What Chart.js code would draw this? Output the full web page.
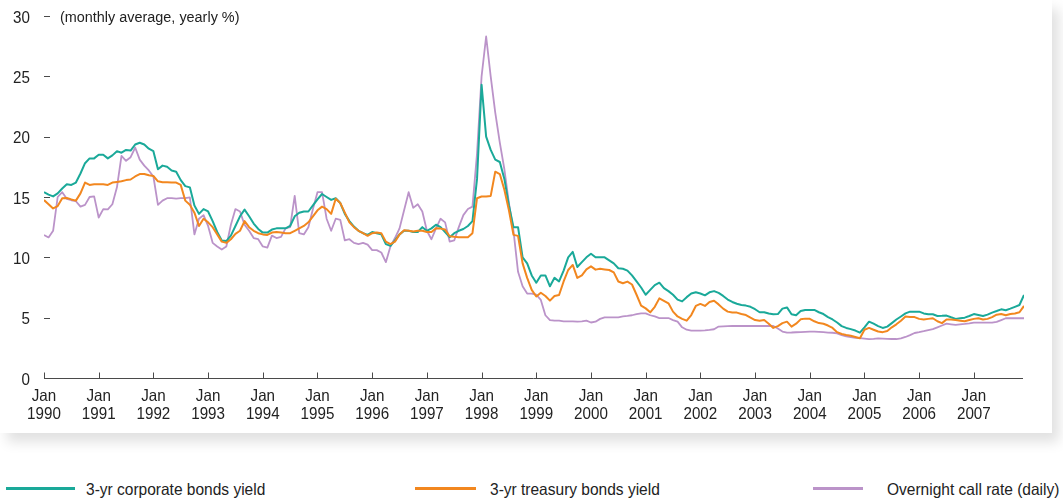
<!DOCTYPE html>
<html>
<head>
<meta charset="utf-8">
<script src="https://cdn.jsdelivr.net/npm/chart.js@4/dist/chart.umd.min.js"></script>
<style>
  body { margin: 0; background: #fff; font-family: 'Liberation Sans', Arial, sans-serif; color: #222; }
  #card { position: absolute; left: 0; top: 0; width: 1052px; height: 433px; background: #fff; box-shadow: 7px 9px 12px rgba(0,0,0,0.12); }
  #card canvas { position: absolute; left: 0; top: 0; }
  .txt { position: absolute; white-space: nowrap; transform-origin: 0 0; }
  #note { left: 60px; top: 8px; font-size: 15.5px; transform: scaleX(0.93); }
  .leg { top: 479px; font-size: 16.5px; line-height: 20px; transform: scaleX(0.94); }
  .sw { position: absolute; top: 487px; height: 3px; }
</style>
</head>
<body>
<div id="card">
  <canvas id="chart" width="1052" height="433"></canvas>
  <div id="note" class="txt">(monthly average, yearly %)</div>
</div>
<i class="sw" style="left:6px;width:69px;background:#1aa999"></i>
<div class="txt leg" style="left:86px">3-yr corporate bonds yield</div>
<i class="sw" style="left:415px;width:61px;background:#f2871f"></i>
<div class="txt leg" style="left:490px">3-yr treasury bonds yield</div>
<i class="sw" style="left:813px;width:50px;background:#bb93c9"></i>
<div class="txt leg" style="left:887px">Overnight call rate (daily)</div>

<script>
// ── Data (monthly, Jan 1990 – Dec 2007) ───────────────────────────────
const startYear = 1990;
const yearTicks = [0, 12, 24, 36, 48, 60, 72, 84, 96, 108, 120, 132, 144, 156, 168, 180, 192, 204];
const yTicks = [0, 5, 10, 15, 20, 25, 30];

const corporate = [
  15.4, 15.2, 15.05, 15.3, 15.7, 16.05, 16.0, 16.2, 16.95, 17.8, 18.2, 18.2,
  18.5, 18.5, 18.2, 18.45, 18.8, 18.67, 18.9, 18.85, 19.35, 19.5, 19.35, 19.0,
  18.8, 17.3, 17.6, 17.5, 17.2, 17.1, 16.4, 15.9, 15.8, 14.3, 13.6, 14.0,
  13.8, 13.0, 12.1, 11.4, 11.35, 11.8, 12.6, 13.4, 13.95, 13.4, 12.8, 12.35,
  12.05, 12.05, 12.3, 12.4, 12.4, 12.4, 12.6, 13.4, 13.7, 13.8, 13.8, 14.3,
  14.8, 15.25, 15.0, 14.76, 14.9, 14.5, 13.6, 13.0, 12.55, 12.2, 12.0, 11.86,
  12.1, 12.0, 11.9, 11.1, 10.95, 11.4, 11.9, 12.2, 12.2, 12.1, 12.1, 12.5,
  12.2, 12.4, 12.7, 12.5, 12.1, 11.67, 12.0, 12.2, 12.35, 12.6, 13.0, 16.5,
  24.3, 20.0, 18.9, 18.1, 17.9, 16.5, 14.3, 12.5, 12.5, 10.0, 9.5, 8.5,
  7.9, 8.5, 8.5, 7.6, 8.3, 8.0, 8.9, 10.0, 10.45, 9.2, 9.6, 10.0,
  10.3, 10.0, 10.0, 10.0, 9.75, 9.5, 9.1, 9.05, 8.9, 8.5, 8.0, 7.5,
  6.9, 7.3, 7.7, 7.9, 7.45, 7.2, 6.9, 6.5, 6.35, 6.7, 7.0, 7.1,
  7.0, 6.85, 7.1, 7.2, 7.05, 6.8, 6.5, 6.3, 6.15, 6.05, 6.0, 5.9,
  5.7, 5.45, 5.45, 5.35, 5.28, 5.3, 5.75, 5.85, 5.28, 5.2, 5.55, 5.64,
  5.64, 5.64, 5.45, 5.3, 5.05, 4.85, 4.6, 4.3, 4.15, 4.05, 3.93, 3.76,
  4.2, 4.67, 4.5, 4.3, 4.15, 4.26, 4.55, 4.85, 5.1, 5.35, 5.5, 5.5,
  5.5, 5.35, 5.28, 5.28, 5.14, 5.15, 5.17, 5.03, 4.9, 4.95, 5.0, 5.14,
  5.3, 5.22, 5.14, 5.25, 5.42, 5.55, 5.69, 5.62, 5.75, 5.9, 6.05, 6.88
];

const treasury = [
  14.75, 14.4, 14.05, 14.25, 14.9, 14.92, 14.8, 14.7, 15.3, 16.2, 16.0, 16.05,
  16.06, 16.06, 16.0, 16.2, 16.25, 16.3, 16.4, 16.45, 16.7, 16.9, 16.9, 16.8,
  16.74, 16.3, 16.22, 16.22, 16.2, 16.2, 16.0, 14.7, 14.35, 13.7, 12.6, 13.2,
  12.9, 12.5, 11.9, 11.3, 11.2, 11.5, 11.95, 12.2, 13.0, 12.5, 12.2, 12.0,
  11.9, 11.86, 12.05, 12.1, 12.05, 12.0, 12.0, 12.2, 12.4, 12.6, 12.9, 13.4,
  13.9, 14.2, 14.0, 13.6, 14.85, 14.5, 13.7, 12.9, 12.5, 12.2, 12.0, 11.78,
  12.0, 12.05, 12.0, 11.3, 11.1, 11.3, 11.9, 12.25, 12.2, 12.14, 12.2, 12.2,
  12.1, 12.1, 12.4, 12.38, 12.3, 11.75, 11.7, 11.67, 11.67, 11.67, 12.0, 14.9,
  15.04, 15.05, 15.09, 17.1, 16.9, 15.6, 13.9, 11.86, 11.78, 9.5, 8.3, 7.3,
  6.75, 7.07, 6.8, 6.41, 6.8, 6.88, 8.0, 8.95, 9.37, 8.3, 8.5, 9.0,
  9.25, 8.98, 9.05, 9.0, 8.95, 8.75, 8.0, 7.85, 7.99, 7.75, 6.9, 6.0,
  5.77, 5.44, 5.9, 6.6, 6.4, 6.19, 5.5, 5.1, 4.9, 4.75, 5.22, 5.97,
  6.14, 5.97, 6.3, 6.4, 6.1, 5.75, 5.5, 5.42, 5.42, 5.3, 5.22, 5.0,
  4.8, 4.75, 4.8, 4.5, 4.15, 4.3, 4.55, 4.67, 4.26, 4.5, 4.86, 4.92,
  4.9, 4.7, 4.55, 4.5, 4.35, 4.15, 3.8, 3.65, 3.57, 3.5, 3.4, 3.3,
  4.0, 4.15, 4.0, 3.85, 3.8, 3.9, 4.2, 4.45, 4.75, 5.1, 5.05, 5.05,
  4.9, 4.85, 4.9, 4.95, 4.7, 4.55, 4.85, 4.85, 4.8, 4.75, 4.7, 4.8,
  4.9, 4.95, 4.85, 4.9, 5.05, 5.25, 5.3, 5.2, 5.3, 5.35, 5.45, 5.97
];

const callRate = [
  11.85, 11.65, 12.2, 15.0, 15.4, 14.85, 14.73, 14.65, 14.2, 14.35, 15.0, 15.05,
  13.3, 14.0, 13.97, 14.4, 15.8, 18.4, 18.0, 18.3, 19.1, 18.1, 17.6, 17.2,
  16.7, 14.35, 14.7, 14.9, 14.9, 14.86, 14.9, 14.9, 14.97, 11.9, 13.2, 13.5,
  12.6, 11.2, 10.9, 10.65, 10.9, 12.7, 14.0, 13.8, 12.7, 12.2, 11.6, 11.5,
  10.9, 10.8, 11.8, 11.6, 11.7, 12.4, 12.5, 15.1, 12.0, 11.9, 12.5, 14.0,
  15.4, 15.4, 13.2, 12.2, 13.2, 13.1, 11.4, 11.5, 11.2, 11.1, 11.2, 11.05,
  10.6, 10.6, 10.4, 9.6, 10.9, 11.6, 12.4, 13.9, 15.4, 14.1, 14.4, 13.8,
  12.2, 11.5, 12.4, 13.2, 12.9, 11.3, 11.4, 12.5, 13.5, 14.0, 14.2, 18.6,
  25.0, 28.3, 25.0, 22.0, 19.5, 17.3, 14.5, 12.2, 8.8, 7.6, 7.0, 7.0,
  6.9, 6.47, 5.2, 4.8, 4.75, 4.75, 4.7, 4.7, 4.7, 4.67, 4.7, 4.75,
  4.6, 4.67, 4.9, 5.03, 5.03, 5.03, 5.03, 5.1, 5.14, 5.2, 5.3, 5.36,
  5.36, 5.2, 5.1, 4.97, 4.97, 4.97, 4.8, 4.67, 4.2, 4.0, 3.93, 3.93,
  3.93, 3.95, 3.98, 4.04, 4.26, 4.28, 4.3, 4.31, 4.31, 4.31, 4.31, 4.31,
  4.31, 4.31, 4.31, 4.31, 4.31, 4.1, 3.85, 3.76, 3.77, 3.79, 3.8, 3.82,
  3.84, 3.84, 3.82, 3.8, 3.76, 3.75, 3.7, 3.55, 3.45, 3.38, 3.33, 3.3,
  3.27, 3.23, 3.25, 3.28, 3.27, 3.24, 3.23, 3.23, 3.28, 3.4, 3.55, 3.73,
  3.8, 3.88, 3.97, 4.05, 4.2, 4.35, 4.5, 4.45, 4.4, 4.45, 4.48, 4.52,
  4.59, 4.59, 4.59, 4.59, 4.59, 4.65, 4.8, 4.95, 4.95, 4.95, 4.95, 4.95
];

const toPoints = arr => arr.map((v, i) => ({ x: i, y: v }));

// narrow-looking label: the reference uses a condensed face
function narrowText(ctx, txt, x, y, align) {
  ctx.save();
  ctx.translate(x, y);
  ctx.scale(0.92, 1);
  ctx.textAlign = align;
  ctx.fillText(txt, 0, 0);
  ctx.restore();
}

// ── Inner tick marks, baseline and tick labels ────────────────────────
const axisMarks = {
  id: 'axisMarks',
  afterDraw(chart) {
    const { ctx, scales: { x, y } } = chart;
    const y0 = Math.round(y.getPixelForValue(0)) + 0.5;
    ctx.save();
    ctx.strokeStyle = '#4a4a4a';
    ctx.lineWidth = 1;
    ctx.beginPath();
    ctx.moveTo(x.getPixelForValue(0), y0);
    ctx.lineTo(x.right - 1, y0);
    yearTicks.forEach(v => {
      const px = Math.round(x.getPixelForValue(v)) + 0.5;
      ctx.moveTo(px, y0);
      ctx.lineTo(px, y0 - 6);
    });
    yTicks.slice(1).forEach(v => {
      const py = Math.round(y.getPixelForValue(v)) + 0.5;
      ctx.moveTo(x.left, py);
      ctx.lineTo(x.left + 6, py);
    });
    ctx.stroke();

    ctx.fillStyle = '#222';
    ctx.font = "16.5px 'Liberation Sans', Arial, sans-serif";
    ctx.textBaseline = 'alphabetic';
    yTicks.forEach(v => narrowText(ctx, String(v), 30, y.getPixelForValue(v) + 6.5, 'right'));
    yearTicks.forEach(v => {
      const px = x.getPixelForValue(v);
      narrowText(ctx, 'Jan', px, y0 + 22, 'center');
      narrowText(ctx, String(startYear + v / 12), px, y0 + 40, 'center');
    });
    ctx.restore();
  }
};

new Chart(document.getElementById('chart'), {
  type: 'line',
  data: {
    datasets: [
      { label: '3-yr treasury bonds yield', data: toPoints(treasury), borderColor: '#f2871f', borderWidth: 2, order: 0 },
      { label: '3-yr corporate bonds yield', data: toPoints(corporate), borderColor: '#1aa999', borderWidth: 2, order: 1 },
      { label: 'Overnight call rate (daily)', data: toPoints(callRate), borderColor: '#bb93c9', borderWidth: 1.8, order: 2 }
    ]
  },
  options: {
    responsive: false,
    animation: false,
    events: [],
    elements: { point: { radius: 0 }, line: { tension: 0, borderJoinStyle: 'round' } },
    layout: { padding: { left: 0, top: 16, right: 28, bottom: 0 } },
    plugins: { legend: { display: false }, tooltip: { enabled: false } },
    scales: {
      x: {
        type: 'linear',
        min: 0,
        max: 215,
        grid: { display: false, drawTicks: false },
        border: { display: false },
        ticks: { display: false },
        afterFit: s => { s.height = 55; }
      },
      y: {
        min: 0,
        max: 30,
        grid: { display: false, drawTicks: false },
        border: { display: false },
        ticks: { display: false },
        afterFit: s => { s.width = 44; }
      }
    }
  },
  plugins: [axisMarks]
});
</script>
</body>
</html>
